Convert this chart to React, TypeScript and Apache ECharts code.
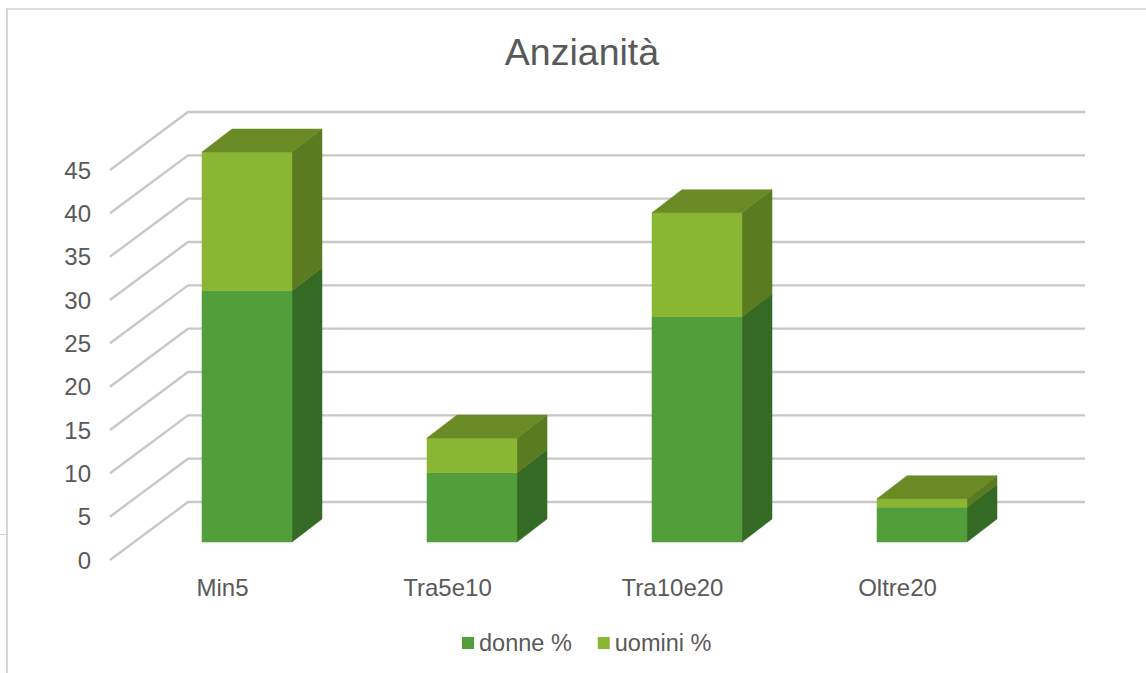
import React, { useEffect, useRef } from "react";
import * as echarts from "echarts";

const categories = ["Min5", "Tra5e10", "Tra10e20", "Oltre20"];
const donne = [29, 8, 26, 4];
const uomini = [16, 4, 12, 1];
const ticks = [0, 5, 10, 15, 20, 25, 30, 35, 40, 45];

const FONT = "'Liberation Sans', Arial, sans-serif";
const TEXT = "#595959";
const GRID = "#c8c8c8";

// Projection of the fake 3D scene
const WALL = { dx: 78, dy: -58 };
const BAR_PLANE = { dx: 24.5, dy: -18 };
const BAR_DEPTH = { dx: 30, dy: -23 };

function wallItem(params: any, api: any) {
  const cs = params.coordSys;
  const y = api.coord([0, api.value(1)])[1];
  return {
    type: "polyline",
    silent: true,
    shape: {
      points: [
        [cs.x, y],
        [cs.x + WALL.dx, y + WALL.dy],
        [cs.x + cs.width + WALL.dx - 3, y + WALL.dy],
      ],
    },
    style: { stroke: GRID, lineWidth: 2.4, fill: "none" },
  };
}

function barRenderer(front: string, side: string, top: string | null) {
  return (_params: any, api: any) => {
    const c = api.value(0);
    const w = api.size([1, 0])[0] * 0.4;
    const a = api.coord([c, api.value(1)]);
    const b = api.coord([c, api.value(2)]);
    const x0 = a[0] - w / 2 + BAR_PLANE.dx;
    const x1 = x0 + w;
    const y0 = a[1] + BAR_PLANE.dy;
    const y1 = b[1] + BAR_PLANE.dy;
    const d = BAR_DEPTH;
    const children: any[] = [
      {
        type: "polygon",
        shape: { points: [[x1, y0], [x1, y1], [x1 + d.dx, y1 + d.dy], [x1 + d.dx, y0 + d.dy]] },
        style: { fill: side, stroke: side, lineWidth: 0.5 },
      },
      {
        type: "polygon",
        shape: { points: [[x0, y0], [x1, y0], [x1, y1], [x0, y1]] },
        style: { fill: front, stroke: front, lineWidth: 0.5 },
      },
    ];
    if (top) {
      children.push({
        type: "polygon",
        shape: { points: [[x0, y1], [x1, y1], [x1 + d.dx, y1 + d.dy], [x0 + d.dx, y1 + d.dy]] },
        style: { fill: top, stroke: top, lineWidth: 0.5 },
      });
    }
    return { type: "group", children };
  };
}

export default function App() {
  const ref = useRef<HTMLDivElement>(null);

  useEffect(() => {
    const chart = echarts.init(ref.current!, undefined, { renderer: "svg" });
    chart.setOption({
      animation: false,
      backgroundColor: "#ffffff",
      title: {
        text: "Anzianità",
        left: 577,
        top: 28,
        textAlign: "center",
        textStyle: { color: TEXT, fontFamily: FONT, fontSize: 37.5, fontWeight: "normal" },
      },
      legend: {
        data: ["donne %", "uomini %"],
        left: 462,
        top: 631,
        padding: 0,
        itemWidth: 12,
        itemHeight: 12,
        itemGap: 26,
        icon: "rect",
        textStyle: { color: TEXT, fontFamily: FONT, fontSize: 23.5 },
      },
      grid: { left: 110, top: 170, width: 900, height: 390 },
      xAxis: {
        type: "category",
        data: categories,
        axisLine: { show: false },
        axisTick: { show: false },
        axisLabel: { color: TEXT, fontFamily: FONT, fontSize: 24, margin: 15 },
      },
      yAxis: {
        type: "value",
        min: 0,
        max: 45,
        interval: 5,
        axisLine: { show: false },
        axisTick: { show: false },
        splitLine: { show: false },
        axisLabel: { color: TEXT, fontFamily: FONT, fontSize: 24, margin: 19 },
      },
      series: [
        {
          name: "griglia",
          type: "custom",
          clip: false,
          silent: true,
          renderItem: wallItem,
          encode: { x: 0, y: 1 },
          data: ticks.map((v) => [0, v]),
          z: 1,
        },
        {
          name: "donne %",
          type: "custom",
          clip: false,
          renderItem: barRenderer("#529e3a", "#356a25", null),
          encode: { x: 0, y: [1, 2] },
          itemStyle: { color: "#529e3a" },
          data: categories.map((_, i) => [i, 0, donne[i]]),
          z: 2,
        },
        {
          name: "uomini %",
          type: "custom",
          clip: false,
          renderItem: barRenderer("#8ab733", "#5b7b20", "#6a8a25"),
          encode: { x: 0, y: [1, 2] },
          itemStyle: { color: "#8ab733" },
          data: categories.map((_, i) => [i, donne[i], donne[i] + uomini[i]]),
          z: 3,
        },
      ],
      graphic: [
        { type: "line", silent: true, shape: { x1: 6, y1: 9, x2: 1146, y2: 9 }, style: { stroke: "#dddddd", lineWidth: 2 } },
        { type: "line", silent: true, shape: { x1: 7, y1: 9, x2: 7, y2: 673 }, style: { stroke: "#d6d6d6", lineWidth: 2 } },
        { type: "line", silent: true, shape: { x1: 0, y1: 534.5, x2: 6, y2: 534.5 }, style: { stroke: "#d0d0d0", lineWidth: 1 } },
      ],
    });
    return () => chart.dispose();
  }, []);

  return (
    <div
      ref={ref}
      style={{ position: "absolute", left: 0, top: 0, width: 1146, height: 673 }}
    />
  );
}
